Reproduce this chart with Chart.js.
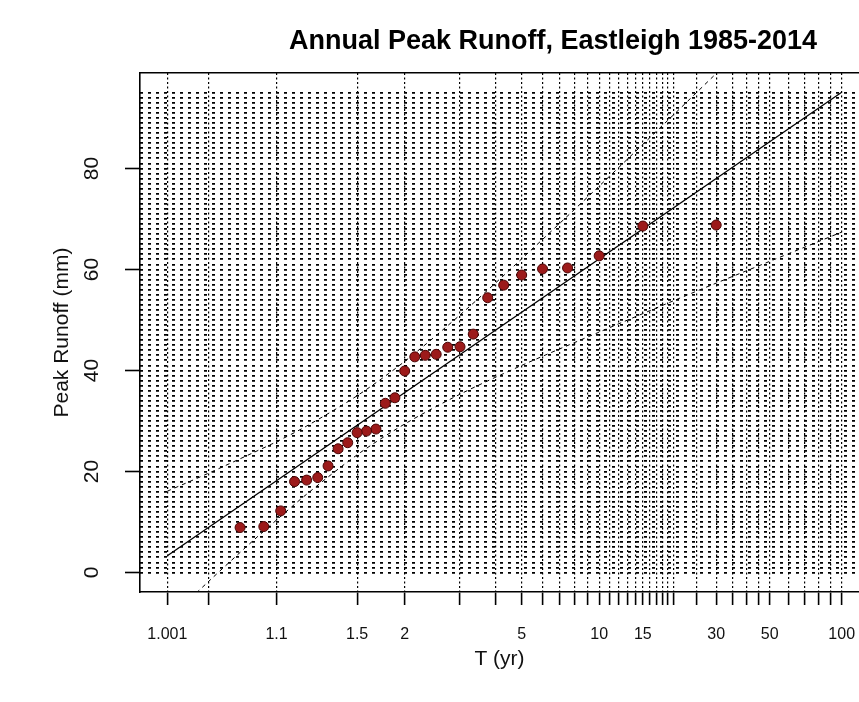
<!DOCTYPE html>
<html>
<head>
<meta charset="utf-8">
<script src="https://cdn.jsdelivr.net/npm/chart.js@4.4.0/dist/chart.umd.min.js"></script>
<style>
  html, body { margin: 0; padding: 0; background: #fff; }
  canvas { display: block; }
</style>
</head>
<body>
<canvas id="chart" width="859" height="702"></canvas>
<script>
// Ranked annual peaks, largest first, with their return periods (yr)
const returnPeriods = [30, 15, 10, 7.5, 6, 5, 4.286, 3.75, 3.333, 3, 2.727, 2.5, 2.308, 2.143, 2,
  1.875, 1.765, 1.667, 1.579, 1.5, 1.429, 1.364, 1.304, 1.25, 1.2, 1.154, 1.111, 1.071, 1.034];
const peakRunoff = [68.8, 68.6, 62.7, 60.3, 60.1, 58.9, 56.9, 54.4, 47.2, 44.7, 44.6, 43.2, 43.0, 42.7, 39.9,
  34.6, 33.5, 28.4, 28.0, 27.7, 25.7, 24.5, 21.1, 18.8, 18.3, 18.0, 12.2, 9.1, 8.9];

// Fitted Gumbel line (end points)
const fitT = [1.001, 100];
const fitRunoff = [3.3, 95.1];

// Confidence limits
const bandT = [1.001, 1.01, 1.05, 1.1, 1.2, 1.5, 2, 3, 5, 10, 20, 30, 50, 100];
const bandUpper = [16.1, 19.7, 23.6, 25.9, 29.0, 35.0, 41.8, 51.0, 62.1, 76.5, 90.6, 98.8, 109.0, 122.8];
const bandLower = [-9.5, -1.7, 6.1, 10.4, 15.5, 23.3, 29.4, 35.3, 41.0, 47.6, 53.8, 57.3, 61.6, 67.4];

// Axis ticks
const xTickT = [1.001, 1.01, 1.1, 1.5, 2, 3, 4, 5, 6, 7, 8, 9, 10, 11, 12, 13, 14, 15, 16, 17, 18, 19, 20,
  25, 30, 35, 40, 45, 50, 60, 70, 80, 90, 100];
const xLabelT = [1.001, 1.1, 1.5, 2, 5, 10, 15, 30, 50, 100];
const yTicks = [0, 20, 40, 60, 80];
const yGridLines = Array.from({ length: 96 }, (_, i) => i); // 0..95 mm

const mainTitle = 'Annual Peak Runoff, Eastleigh 1985-2014';

// Gumbel reduced variate of a return period
const gumbel = t => -Math.log(-Math.log(1 - 1 / t));

const X_MIN = -2.1975, X_MAX = 4.7676;   // reduced-variate range of the plot box
const Y_MIN = -3.86, Y_MAX = 98.9;

const FONT = '"Liberation Sans", Arial, Helvetica, sans-serif';
const INK = '#111';

const pts = (ts, vs) => ts.map((t, i) => ({ x: gumbel(t), y: vs[i] }));
const noPadding = s => { s.paddingLeft = 0; s.paddingRight = 0; s.paddingTop = 0; s.paddingBottom = 0; };

const titlePlugin = {
  id: 'mainTitle',
  afterDraw(chart) {
    const ctx = chart.ctx;
    ctx.save();
    ctx.font = 'bold 27px ' + FONT;
    ctx.fillStyle = '#000';
    ctx.textAlign = 'center';
    ctx.textBaseline = 'alphabetic';
    ctx.fillText(mainTitle, 553, 49);
    ctx.restore();
  }
};

new Chart(document.getElementById('chart'), {
  type: 'scatter',
  data: {
    datasets: [
      {
        label: 'Peak runoff',
        data: pts(returnPeriods, peakRunoff),
        pointRadius: 5,
        pointHoverRadius: 5,
        backgroundColor: '#9c1a1a',
        borderColor: '#4a0505',
        borderWidth: 1
      },
      {
        label: 'Gumbel fit',
        data: pts(fitT, fitRunoff),
        showLine: true,
        pointRadius: 0,
        borderColor: '#000',
        borderWidth: 1.3,
        clip: 0
      },
      {
        label: 'Upper limit',
        data: pts(bandT, bandUpper),
        showLine: true,
        tension: 0.3,
        pointRadius: 0,
        borderColor: '#000',
        borderWidth: 1,
        borderDash: [4, 4],
        clip: 0
      },
      {
        label: 'Lower limit',
        data: pts(bandT, bandLower),
        showLine: true,
        tension: 0.3,
        pointRadius: 0,
        borderColor: '#000',
        borderWidth: 1,
        borderDash: [4, 4],
        clip: 0
      }
    ]
  },
  options: {
    responsive: false,
    animation: false,
    layout: { autoPadding: false, padding: { top: 73, left: 0, right: 0, bottom: 0 } },
    plugins: {
      legend: { display: false },
      tooltip: { enabled: false },
      title: { display: false }
    },
    scales: {
      x: {
        type: 'linear',
        position: 'bottom',
        min: X_MIN,
        max: X_MAX,
        afterBuildTicks: s => { s.ticks = xTickT.map(t => ({ value: gumbel(t) })); },
        afterFit: s => { s.height = 110; noPadding(s); },
        ticks: {
          autoSkip: false,
          maxRotation: 0,
          minRotation: 0,
          padding: 20,
          color: INK,
          font: { family: FONT, size: 16 },
          callback: (v, i) => (xLabelT.includes(xTickT[i]) ? String(xTickT[i]) : '')
        },
        grid: {
          color: '#000',
          lineWidth: 1.2,
          drawTicks: true,
          tickLength: 13,
          tickColor: '#000',
          tickWidth: 1.6,
          tickBorderDash: []
        },
        border: { display: true, color: '#000', width: 1.6, dash: [2, 2.5] },
        title: {
          display: true,
          text: 'T (yr)',
          color: INK,
          font: { family: FONT, size: 21 },
          padding: { top: 0, bottom: 30 }
        }
      },
      xTop: {
        type: 'linear',
        axis: 'x',
        position: 'top',
        min: X_MIN,
        max: X_MAX,
        ticks: { display: false },
        grid: { display: false, drawTicks: false },
        border: { display: true, color: '#000', width: 1.6 },
        afterFit: s => { s.height = 0; noPadding(s); }
      },
      y: {
        type: 'linear',
        position: 'left',
        min: Y_MIN,
        max: Y_MAX,
        afterBuildTicks: s => { s.ticks = yTicks.map(v => ({ value: v })); },
        afterFit: s => { s.width = 140; noPadding(s); },
        ticks: {
          minRotation: 90,
          maxRotation: 90,
          crossAlign: 'center',
          padding: 21,
          color: INK,
          font: { family: FONT, size: 21 }
        },
        grid: {
          drawOnChartArea: false,
          drawTicks: true,
          tickLength: 15,
          tickColor: '#000',
          tickWidth: 1.6,
          tickBorderDash: []
        },
        border: { display: true, color: '#000', width: 1.6 },
        title: {
          display: true,
          text: 'Peak Runoff (mm)',
          color: INK,
          font: { family: FONT, size: 21 },
          padding: { top: 50, bottom: 0 }
        }
      },
      yGrid: {
        type: 'linear',
        axis: 'y',
        position: 'right',
        min: Y_MIN,
        max: Y_MAX,
        afterBuildTicks: s => { s.ticks = yGridLines.map(v => ({ value: v })); },
        afterFit: s => { s.width = 0; noPadding(s); },
        ticks: { display: false },
        grid: {
          color: '#000',
          lineWidth: 1.8,
          drawTicks: false
        },
        border: { display: false, dash: [3, 5] }
      }
    }
  },
  plugins: [titlePlugin]
});
</script>
</body>
</html>
